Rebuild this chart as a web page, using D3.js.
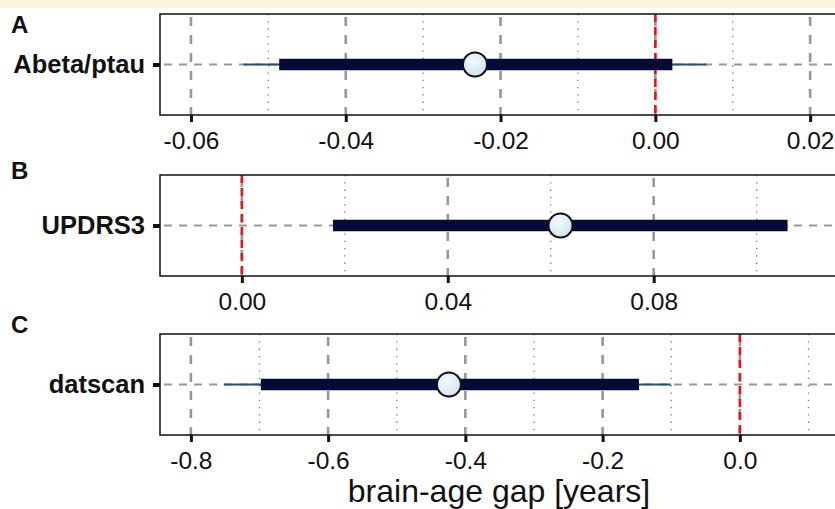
<!DOCTYPE html>
<html><head><meta charset="utf-8">
<script src="https://cdn.jsdelivr.net/npm/d3@7"></script>
<style>body{margin:0;background:#fff}svg{display:block}</style>
</head><body>
<script>
// ---- data ----
const panelLetters = ["A", "B", "C"];
const categories = ["Abeta/ptau", "UPDRS3", "datscan"];
const estimates = [-0.0233, 0.0619, -0.424];
const ci50 = [[-0.0486, 0.0022], [0.0177, 0.106], [-0.698, -0.147]];
const ci95 = [[-0.0532, 0.0066], [0.0177, 0.106], [-0.752, -0.1005]];
const axisLimits = [[-0.064, 0.0236], [-0.0159, 0.1158], [-0.845, 0.143]];
const majorTicks = [[-0.06, -0.04, -0.02, 0.00, 0.02], [0.00, 0.04, 0.08], [-0.8, -0.6, -0.4, -0.2, 0.0]];
const minorTicks = [[-0.05, -0.03, -0.01, 0.01], [0.02, 0.06, 0.10], [-0.7, -0.5, -0.3, -0.1, 0.1]];
const tickFormats = [".2f", ".2f", ".1f"];
const xTitle = "brain-age gap [years]";

const W = 835, H = 509;
const svg = d3.select("body").append("svg").attr("width", W).attr("height", H);
svg.append("rect").attr("x", 0).attr("y", 0).attr("width", W).attr("height", 8).attr("fill", "#fdf6dc");

const defs = svg.append("defs");
const grad = defs.append("radialGradient").attr("id", "pt").attr("cx", "40%").attr("cy", "35%").attr("r", "70%");
grad.append("stop").attr("offset", "0%").attr("stop-color", "#f4f9fd");
grad.append("stop").attr("offset", "100%").attr("stop-color", "#cfe2f1");

const left = 160, right = 838, frameRight = 860;
const tops = [14, 175, 334], ph = 101;
const letterBase = [33, 179, 333];
const font = "Liberation Sans, Arial, Helvetica, sans-serif";

categories.forEach((cat, i) => {
  const top = tops[i], bottom = top + ph;
  const x = d3.scaleLinear().domain(axisLimits[i]).range([left, right]);
  const y = d3.scalePoint().domain([cat]).range([top, bottom]).padding(0.5);
  const yc = y(cat);
  const g = svg.append("g");
  const clip = "clip" + i;
  defs.append("clipPath").attr("id", clip).append("rect").attr("x", left).attr("y", top).attr("width", frameRight - left).attr("height", ph);
  const pg = g.append("g").attr("clip-path", `url(#${clip})`);

  // minor grid
  pg.selectAll(".minor").data(minorTicks[i]).join("line")
    .attr("x1", d => x(d)).attr("x2", d => x(d)).attr("y1", top).attr("y2", bottom)
    .attr("stroke", "#7a7a7a").attr("stroke-width", 1.3).attr("stroke-dasharray", "1.3,6");
  // major grid
  pg.selectAll(".major").data(majorTicks[i]).join("line")
    .attr("x1", d => x(d)).attr("x2", d => x(d)).attr("y1", top).attr("y2", bottom)
    .attr("stroke", "#979797").attr("stroke-width", 2.6).attr("stroke-dasharray", "9,9")
    .attr("stroke-dashoffset", -3);
  // horizontal grid
  pg.append("line").attr("x1", left).attr("x2", frameRight).attr("y1", yc).attr("y2", yc)
    .attr("stroke", "#979797").attr("stroke-width", 2.2).attr("stroke-dasharray", "8,7").attr("stroke-dashoffset", -4);
  // zero line
  pg.append("line").attr("x1", x(0)).attr("x2", x(0)).attr("y1", top).attr("y2", bottom)
    .attr("stroke", "#e8141c").attr("stroke-width", 2.6).attr("stroke-dasharray", "8,5");
  // 95% CI thin
  pg.append("line").attr("x1", x(ci95[i][0])).attr("x2", x(ci95[i][1])).attr("y1", yc).attr("y2", yc)
    .attr("stroke", "#1d5580").attr("stroke-width", 2.2);
  // 50% CI thick
  pg.append("line").attr("x1", x(ci50[i][0])).attr("x2", x(ci50[i][1])).attr("y1", yc).attr("y2", yc)
    .attr("stroke", "#050b38").attr("stroke-width", 11.5);
  // point
  pg.append("circle").attr("cx", x(estimates[i])).attr("cy", yc).attr("r", 12)
    .attr("fill", "url(#pt)").attr("stroke", "#111").attr("stroke-width", 2);

  // frame
  g.append("rect").attr("x", left).attr("y", top).attr("width", frameRight - left).attr("height", ph)
    .attr("fill", "none").attr("stroke", "#111").attr("stroke-width", 1.5);

  // x axis
  const xa = g.append("g").attr("transform", `translate(0,${bottom})`)
    .call(d3.axisBottom(x).tickValues(majorTicks[i]).tickFormat(d3.format(tickFormats[i])).tickSize(7).tickPadding(10));
  xa.select(".domain").remove();
  xa.selectAll(".tick line").attr("stroke", "#111").attr("stroke-width", 3);
  xa.selectAll(".tick text").attr("font-family", font).attr("font-size", 24.5).attr("fill", "#111")
    .text(d => d3.format(tickFormats[i])(d).replace("−", "-"));

  // y axis
  const ya = g.append("g").attr("transform", `translate(${left},0)`)
    .call(d3.axisLeft(y).tickSize(7).tickPadding(8));
  ya.select(".domain").remove();
  ya.selectAll(".tick line").attr("stroke", "#111").attr("stroke-width", 4);
  ya.selectAll(".tick text").attr("font-family", font).attr("font-size", 25.5).attr("font-weight", "bold").attr("fill", "#111");

  // panel letter
  svg.append("text").attr("x", 11).attr("y", letterBase[i]).text(panelLetters[i])
    .attr("font-family", font).attr("font-size", 24).attr("font-weight", "bold").attr("fill", "#111");
});

svg.append("text").attr("x", (left + right) / 2).attr("y", 502).attr("text-anchor", "middle")
  .attr("font-family", font).attr("font-size", 32).attr("fill", "#111").text(xTitle);
</script>
</body></html>
